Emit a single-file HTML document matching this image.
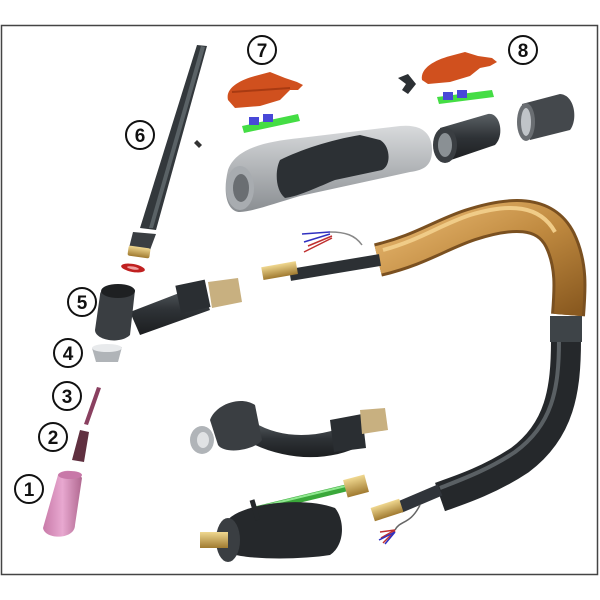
<!DOCTYPE html>
<html><head><meta charset="utf-8"><style>
html,body{margin:0;padding:0;background:#fff;width:600px;height:600px;overflow:hidden}
svg{display:block}
text{font-family:"Liberation Sans",sans-serif;font-weight:bold;font-size:19px;text-anchor:middle}
</style></head><body>
<svg width="600" height="600" viewBox="0 0 600 600">
<defs>
<linearGradient id="tan" x1="0" y1="0" x2="1" y2="1"><stop offset="0" stop-color="#e8b870"/><stop offset="0.5" stop-color="#c08a40"/><stop offset="1" stop-color="#8a5a20"/></linearGradient>
<linearGradient id="dk" x1="0" y1="0" x2="0" y2="1"><stop offset="0" stop-color="#5a6064"/><stop offset="0.5" stop-color="#2e3236"/><stop offset="1" stop-color="#1c1e20"/></linearGradient>
<linearGradient id="gr" x1="0" y1="0" x2="0" y2="1"><stop offset="0" stop-color="#d8dadc"/><stop offset="1" stop-color="#8a8e92"/></linearGradient>
<linearGradient id="pk" x1="0" y1="0" x2="1" y2="0"><stop offset="0" stop-color="#c87aa8"/><stop offset="0.5" stop-color="#e8a8d0"/><stop offset="1" stop-color="#b06890"/></linearGradient>
<linearGradient id="br" x1="0" y1="0" x2="0" y2="1"><stop offset="0" stop-color="#f0d890"/><stop offset="1" stop-color="#a07a30"/></linearGradient>
</defs>
<rect x="1.5" y="25.5" width="596" height="549" fill="#fff" stroke="#444" stroke-width="1.5"/>

<!-- part 6 back cap -->
<path d="M197,45 L207,46 L156,230 L140,228 Z" fill="#33383c"/>
<path d="M201,46 L205,47 L153,228 L149,228 Z" fill="#5a6266"/>
<path d="M133,232 L156,234 L150,250 L129,248 Z" fill="#3a3e42"/>
<rect x="128" y="247" width="22" height="10" rx="2" fill="url(#br)" transform="rotate(8 139 252)"/>
<ellipse cx="133" cy="268" rx="12" ry="4" fill="#c02020" transform="rotate(10 133 268)"/>
<ellipse cx="133" cy="268" rx="6" ry="1.5" fill="#f0a0a0" transform="rotate(10 133 268)"/>
<path d="M197,140 l5,5 l-3,3 l-5,-5z" fill="#333"/>

<!-- part 7 -->
<path d="M228,100 C225,88 240,80 255,76 L270,72 L285,78 L297,82 L303,85 L298,90 L290,90 L280,100 L260,106 L235,108 Z" fill="#d0501e"/>
<path d="M232,92 L290,88" stroke="#a83a12" stroke-width="2"/>
<path d="M242,126 L298,114 L300,121 L244,133 Z" fill="#44dd44"/>
<rect x="249" y="117" width="10" height="8" fill="#4848d8"/><rect x="263" y="114" width="10" height="8" fill="#4848d8"/>
<!-- part 8 -->
<path d="M422,80 C420,68 435,60 450,56 L465,52 L478,56 L492,58 L497,62 L490,66 L480,68 L470,76 L450,82 L428,84 Z" fill="#d0501e"/>
<path d="M437,97 L492,90 L494,97 L439,104 Z" fill="#44dd44"/>
<rect x="443" y="92" width="10" height="8" fill="#4848d8"/><rect x="457" y="90" width="10" height="8" fill="#4848d8"/>
<path d="M398,78 l10,-4 l8,10 l-8,10 l-6,-4 l4,-6z" fill="#2c3034"/>

<!-- handle -->
<path d="M228,170 C235,150 260,142 300,138 L400,126 C420,124 432,132 432,150 C432,165 425,170 410,172 L300,196 C270,205 250,212 240,212 C228,212 222,195 228,170 Z" fill="url(#gr)"/>
<path d="M280,160 C300,150 330,140 360,135 L380,140 C390,145 392,165 382,170 L335,180 C320,186 300,196 285,198 C275,190 275,170 280,160 Z" fill="#2c3034"/>
<ellipse cx="240" cy="188" rx="14" ry="22" fill="#a8acb0"/>
<ellipse cx="241" cy="188" rx="8" ry="14" fill="#6a6e72"/>
<!-- nut pieces -->
<path d="M440,128 L488,114 C500,112 505,135 495,145 L445,162 Z" fill="url(#dk)"/>
<ellipse cx="445" cy="145" rx="12" ry="18" fill="#3a3e42"/>
<ellipse cx="445" cy="145" rx="7" ry="12" fill="#8a9094"/>
<path d="M522,104 L560,94 C575,95 578,120 570,130 L530,140 Z" fill="#44484c"/>
<ellipse cx="526" cy="122" rx="9" ry="19" fill="#6a6e72"/>
<ellipse cx="526" cy="122" rx="5" ry="14" fill="#c0c4c8"/>

<!-- tan cable -->
<path d="M378,260 C420,250 440,235 470,225 C510,212 545,210 560,240 C572,265 570,290 568,315" fill="none" stroke="#7a5020" stroke-width="34" stroke-linecap="butt"/>
<path d="M378,260 C420,250 440,235 470,225 C510,212 545,210 560,240 C572,265 570,290 568,315" fill="none" stroke="url(#tan)" stroke-width="28"/>
<path d="M383,250 C420,240 440,225 470,215 C510,203 540,205 555,232" fill="none" stroke="#f0cc88" stroke-width="4"/>
<!-- black cable -->
<path d="M566,340 C566,390 560,430 520,460 C490,480 460,490 440,497" fill="none" stroke="#25282b" stroke-width="30"/>
<path d="M559,340 C559,390 552,425 515,452 C488,470 460,480 440,488" fill="none" stroke="#5a6064" stroke-width="4"/>
<rect x="550" y="316" width="32" height="26" fill="#3e4448"/>
<path d="M440,490 L400,507" stroke="#30343a" stroke-width="12"/>
<rect x="372" y="503" width="30" height="14" fill="url(#br)" transform="rotate(-18 387 510)"/>
<path d="M420,505 C410,525 400,520 395,530" stroke="#666" fill="none" stroke-width="1.5"/>
<path d="M395,530 l-15,2 M395,530 l-14,8 M395,531 l-12,12" stroke="#c03030" stroke-width="1.5"/>
<path d="M395,532 l-10,12 M395,532 l-16,8" stroke="#3030c0" stroke-width="1.5"/>
<!-- inner conduit upper -->
<path d="M380,260 L290,275" stroke="#2c3034" stroke-width="12"/>
<rect x="262" y="264" width="35" height="13" fill="url(#br)" transform="rotate(-10 280 270)"/>
<path d="M362,245 C355,235 345,232 330,232" stroke="#888" fill="none" stroke-width="1.5"/>
<path d="M330,232 l-28,2 M330,234 l-26,8" stroke="#3030c0" stroke-width="1.5"/>
<path d="M332,236 l-24,10 M332,238 l-28,14" stroke="#c03030" stroke-width="1.5"/>

<!-- part 5 torch head -->
<path d="M130,312 L200,285 L210,310 L140,335 Z" fill="url(#dk)"/>
<rect x="178" y="283" width="30" height="28" fill="#2a2e32" transform="rotate(-12 190 297)"/>
<path d="M208,282 L238,278 L242,302 L212,308 Z" fill="#c8b080"/>
<path d="M100,295 C100,285 128,282 135,290 L130,335 C120,345 95,340 95,330 Z" fill="#3a3e42"/>
<ellipse cx="118" cy="291" rx="17" ry="7" fill="#1e2022"/>
<!-- 4 -->
<path d="M92,348 L122,347 L118,362 L96,362 Z" fill="#b0b4b8"/>
<ellipse cx="107" cy="348" rx="15" ry="4" fill="#e8eaec"/>
<!-- 3 -->
<path d="M97,387 L101,388 L88,425 L84,424 Z" fill="#8a4060"/>
<!-- 2 -->
<path d="M80,430 L89,432 L84,462 L72,460 Z" fill="#603040"/>
<!-- 1 -->
<path d="M58,475 C62,468 78,470 82,478 L75,525 C75,540 45,540 43,528 Z" fill="url(#pk)"/>
<ellipse cx="70" cy="475" rx="12" ry="4" fill="#c878a8"/>

<!-- flex head -->
<path d="M250,420 C280,440 320,440 360,420 L362,445 C330,462 285,462 245,440 Z" fill="url(#dk)"/>
<path d="M330,420 L362,414 L366,448 L334,452 Z" fill="#2a2e32"/>
<path d="M360,410 L385,408 L388,430 L362,434 Z" fill="#c8b080"/>
<path d="M210,420 C215,405 240,395 255,405 L262,440 C255,450 225,455 218,445 Z" fill="#3a3e42"/>
<ellipse cx="202" cy="440" rx="12" ry="14" fill="#b0b4b8"/>
<ellipse cx="203" cy="440" rx="6" ry="8" fill="#e0e2e4"/>

<!-- green hose & plug -->
<path d="M255,510 L350,487" stroke="#3aa83a" stroke-width="7"/>
<path d="M255,508 L350,485" stroke="#90e890" stroke-width="2"/>
<rect x="345" y="477" width="22" height="18" fill="url(#br)" transform="rotate(-15 356 486)"/>
<path d="M225,525 C230,505 300,495 335,508 C345,520 345,545 330,555 C300,560 240,560 228,552 Z" fill="#25282b"/>
<ellipse cx="228" cy="540" rx="12" ry="22" fill="#3a3e42"/>
<rect x="200" y="532" width="28" height="16" fill="url(#br)"/>
<path d="M252,500 L258,520" stroke="#25282b" stroke-width="5"/>

<!-- labels -->
<g fill="#fff" stroke="#111" stroke-width="2">
<circle cx="262" cy="50" r="14"/><circle cx="523" cy="50" r="14"/>
<circle cx="140" cy="135" r="14"/><circle cx="82" cy="302" r="14"/>
<circle cx="68" cy="353" r="14"/><circle cx="67" cy="396" r="14"/>
<circle cx="53" cy="437" r="14"/><circle cx="29" cy="489" r="14"/>
</g>
<g fill="#111">
<text x="262" y="57">7</text><text x="523" y="57">8</text>
<text x="140" y="142">6</text><text x="82" y="309">5</text>
<text x="68" y="360">4</text><text x="67" y="403">3</text>
<text x="53" y="444">2</text><text x="29" y="496">1</text>
</g>
</svg>
</body></html>
